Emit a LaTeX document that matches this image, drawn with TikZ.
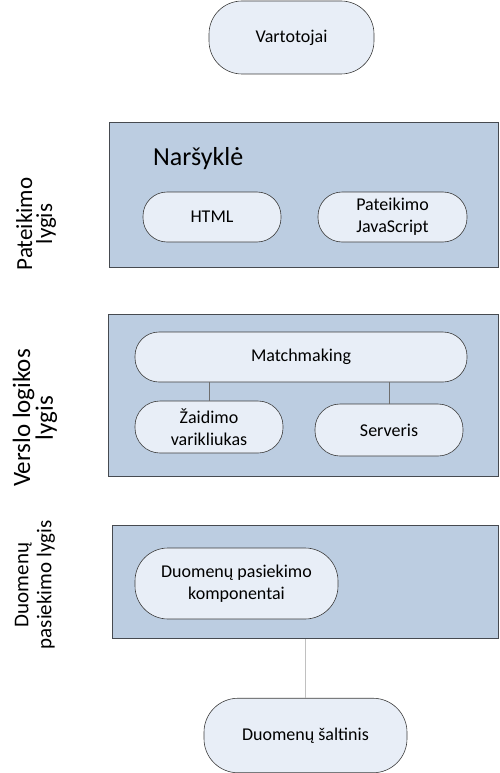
\documentclass[tikz,border=0pt]{standalone}
\usepackage{fontspec}
\setmainfont{Carlito}
\definecolor{boxblue}{RGB}{188,205,225}
\definecolor{nodefill}{RGB}{232,238,247}
\definecolor{bordergray}{RGB}{70,74,80}
\definecolor{nodeborder}{RGB}{60,60,60}
\definecolor{linkdark}{RGB}{110,110,110}
\definecolor{linklight}{RGB}{192,192,192}
\begin{document}
\begin{tikzpicture}[x=1pt,y=-1pt,
  layer/.style={draw=bordergray, line width=1pt, fill=boxblue, inner sep=0pt},
  comp/.style={draw=nodeborder, line width=0.6pt, fill=nodefill, rounded corners=#1,
    align=center, font=\fontsize{18}{22}\selectfont, inner sep=0pt},
  comp/.default=24pt,
  side/.style={rotate=90, align=center, inner sep=0pt},
  link/.style={draw=linkdark, line width=0.8pt},
  linklt/.style={draw=linklight, line width=1.8pt}]
\useasboundingbox (0,0) rectangle (500,773);

% top user node
\node[comp=33pt, minimum width=165pt, minimum height=73pt] (vart) at (291.5,37.5) {Vartotojai};

% presentation layer
\node[layer, minimum width=389.5pt, minimum height=144pt] (bbox) at (303.75,195) {};
\node[anchor=base west, inner sep=0pt, font=\fontsize{26}{30}\selectfont] (nars) at (153,165) {Naršyklė};
\node[comp, minimum width=138pt, minimum height=50pt] (html) at (212,217) {HTML};
\node[comp, minimum width=149pt, minimum height=50pt] (pjs) at (392.5,217) {Pateikimo\\JavaScript};

% business logic layer
\node[layer, minimum width=390.5pt, minimum height=162pt] (lbox) at (303.25,395) {};
\node[comp, minimum width=332pt, minimum height=50pt] (match) at (301,357) {Matchmaking};
\node[comp=25pt, minimum width=148pt, minimum height=52pt] (zaid) at (209,427) {Žaidimo\\varikliukas};
\node[comp=25pt, minimum width=148pt, minimum height=52pt] (serv) at (389,430) {Serveris};
\draw[link] (zaid.north) -- (zaid.north |- match.south);
\draw[link] (serv.north) -- (serv.north |- match.south);

% data access layer
\node[layer, minimum width=386.5pt, minimum height=113pt] (dbox) at (305.25,581.5) {};
\node[comp=33pt, minimum width=203pt, minimum height=71pt] (dpk) at (236.5,583.5) {Duomenų pasiekimo\\komponentai};

% data source
\node[comp=34pt, minimum width=203pt, minimum height=74.5pt] (dsalt) at (305.5,735.5) {Duomenų šaltinis};
\draw[linklt] (dsalt.north) -- (dsalt.north |- dbox.south);

% side labels
\node[side, font=\fontsize{23}{20}\selectfont] (l1) at (36,224) {Pateikimo\\lygis};
\node[side, font=\fontsize{25}{21}\selectfont] (l2) at (35,418) {Verslo logikos\\lygis};
\node[side, font=\fontsize{21}{23}\selectfont] (l3) at (35,585) {Duomenų\\pasiekimo lygis};
\end{tikzpicture}
\end{document}
